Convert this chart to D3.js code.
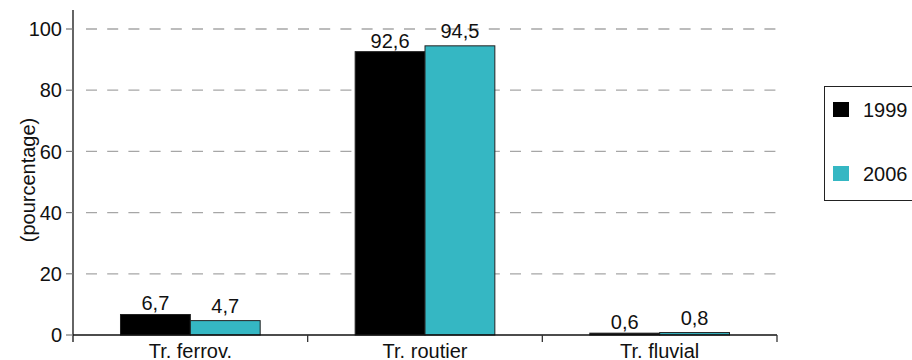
<!doctype html>
<html lang="fr">
<head>
<meta charset="utf-8">
<title>Transport (pourcentage)</title>
<script src="https://cdn.jsdelivr.net/npm/d3@7"></script>
<style>
  body { margin: 0; background: #fff; }
  svg { display: block; font-family: "Liberation Sans", Arial, sans-serif; }
</style>
</head>
<body>
<svg id="chart" width="912" height="360"></svg>
<script>
// donnees
var categories = ["Tr. ferrov.", "Tr. routier", "Tr. fluvial"];
var years = ["1999", "2006"];
var values1999 = [6.7, 92.6, 0.6];
var values2006 = [4.7, 94.5, 0.8];
var yTicks = [0, 20, 40, 60, 80, 100];
var colors = ["#000000", "#35b7c3"];

var series = [values1999, values2006];
var svg = d3.select("#chart");

var x0 = d3.scaleBand().domain(categories).range([73, 777]);
var x1 = d3.scaleBand().domain(years).range([0, x0.bandwidth()]).paddingOuter(0.68);
var y = d3.scaleLinear().domain([0, 100]).range([335, 29]);
var fmt = function(v) { return d3.format(".1f")(v).replace(".", ","); };

// grille
svg.append("g").selectAll("line")
  .data(yTicks.filter(function(d) { return d > 0; }))
  .enter().append("line")
  .attr("x1", 86).attr("x2", 776)
  .attr("y1", function(d) { return y(d); })
  .attr("y2", function(d) { return y(d); })
  .attr("stroke", "#a6a6a6")
  .attr("stroke-width", 1.3)
  .attr("stroke-dasharray", "11,10.2");

// barres
var groups = svg.append("g").selectAll("g")
  .data(categories)
  .enter().append("g")
  .attr("transform", function(d) { return "translate(" + x0(d) + ",0)"; });

years.forEach(function(yr, s) {
  groups.append("rect")
    .attr("x", x1(yr))
    .attr("width", x1.bandwidth())
    .attr("y", function(d, i) { return y(series[s][i]); })
    .attr("height", function(d, i) { return y(0) - y(series[s][i]); })
    .attr("fill", colors[s])
    .attr("stroke", "#222")
    .attr("stroke-width", 1);

  groups.append("text")
    .attr("x", x1(yr) + x1.bandwidth() / 2)
    .attr("y", function(d, i) { return y(series[s][i]) - (s === 0 ? 4 : 8); })
    .attr("text-anchor", "middle")
    .attr("font-size", 20)
    .attr("fill", "#111")
    .text(function(d, i) { return fmt(series[s][i]); });
});

// axe y
var yAxis = svg.append("g");
yAxis.append("line")
  .attr("x1", 73).attr("x2", 73).attr("y1", 10).attr("y2", 342)
  .attr("stroke", "#111").attr("stroke-width", 1.3);
yAxis.selectAll(".tick").data(yTicks).enter().append("line")
  .attr("x1", 66).attr("x2", 73)
  .attr("y1", function(d) { return y(d); })
  .attr("y2", function(d) { return y(d); })
  .attr("stroke", "#777").attr("stroke-width", 1.2);
yAxis.selectAll("text").data(yTicks).enter().append("text")
  .attr("x", 62)
  .attr("y", function(d) { return y(d); })
  .attr("dy", "0.36em")
  .attr("text-anchor", "end")
  .attr("font-size", 20)
  .attr("fill", "#111")
  .text(function(d) { return d; });

svg.append("text")
  .attr("transform", "translate(35,180) rotate(-90)")
  .attr("text-anchor", "middle")
  .attr("font-size", 20)
  .attr("fill", "#111")
  .text("(pourcentage)");

// axe x
var xAxis = svg.append("g");
xAxis.append("line")
  .attr("x1", 73).attr("x2", 777).attr("y1", y(0)).attr("y2", y(0))
  .attr("stroke", "#111").attr("stroke-width", 1.3);
xAxis.selectAll(".tick").data(categories).enter().append("line")
  .attr("x1", function(d) { return x0(d) + x0.bandwidth(); })
  .attr("x2", function(d) { return x0(d) + x0.bandwidth(); })
  .attr("y1", y(0)).attr("y2", y(0) + 7)
  .attr("stroke", "#333").attr("stroke-width", 1.3);
xAxis.selectAll("text").data(categories).enter().append("text")
  .attr("x", function(d) { return x0(d) + x0.bandwidth() / 2; })
  .attr("y", 358)
  .attr("text-anchor", "middle")
  .attr("font-size", 20)
  .attr("fill", "#111")
  .text(function(d) { return d; });

// legende
var legend = svg.append("g");
legend.append("rect")
  .attr("x", 824.5).attr("y", 86.5).attr("width", 100).attr("height", 114)
  .attr("fill", "#fff").attr("stroke", "#222").attr("stroke-width", 1);
var items = legend.selectAll("g.item").data(years).enter().append("g")
  .attr("transform", function(d, i) { return "translate(833," + (102 + i * 64) + ")"; });
items.append("rect")
  .attr("width", 16).attr("height", 15)
  .attr("fill", function(d, i) { return colors[i]; });
items.append("text")
  .attr("x", 30).attr("y", 8).attr("dy", "0.36em")
  .attr("font-size", 20)
  .attr("fill", "#111")
  .text(function(d) { return d; });
</script>
</body>
</html>
